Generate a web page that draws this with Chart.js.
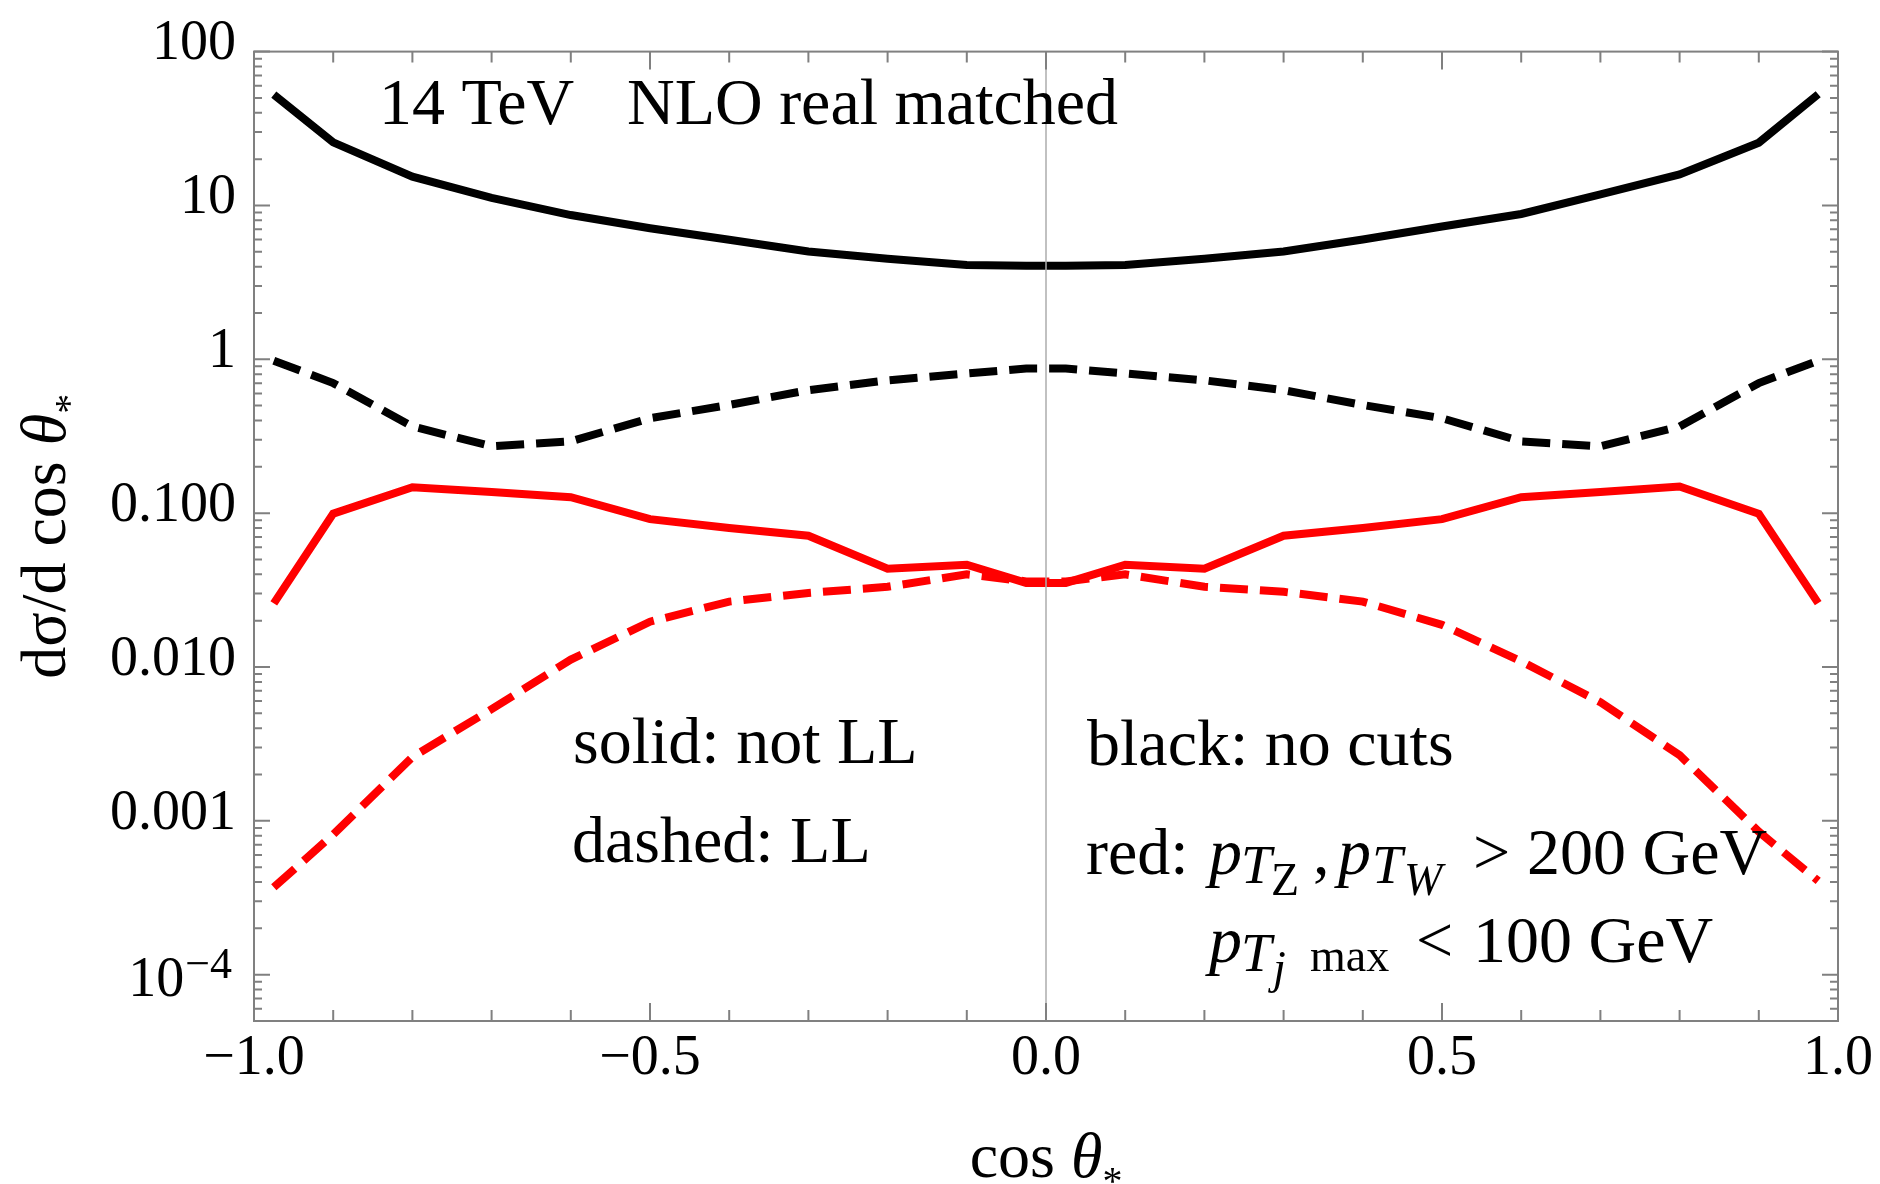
<!DOCTYPE html>
<html>
<head>
<meta charset="utf-8">
<script src="https://cdn.jsdelivr.net/npm/chart.js@4.4.1/dist/chart.umd.min.js"></script>
<style>
html,body{margin:0;padding:0;background:#fff;}
#wrap{width:1880px;height:1184px;position:relative;}
</style>
</head>
<body>
<div id="wrap"><canvas id="c" width="1880" height="1184"></canvas></div>
<script>
// ---------------- data ----------------
const cosTheta = [-0.975,-0.9,-0.8,-0.7,-0.6,-0.5,-0.4,-0.3,-0.2,-0.1,-0.025,0.025,0.1,0.2,0.3,0.4,0.5,0.6,0.7,0.8,0.9,0.975];
const noCutsNotLL = [52.6,25.7,15.4,11.2,8.66,7.11,5.98,5.02,4.5,4.1,4.05,4.05,4.1,4.5,5.02,6.0,7.3,8.8,11.8,15.9,25.6,52.8];
const noCutsLL    = [0.98,0.70,0.366,0.272,0.293,0.414,0.505,0.63,0.73,0.81,0.87,0.87,0.81,0.73,0.63,0.505,0.414,0.293,0.272,0.366,0.70,0.98];
const cutsNotLL   = [0.0259,0.0993,0.1475,0.137,0.127,0.0914,0.080,0.0713,0.0435,0.0462,0.0352,0.0352,0.0462,0.0435,0.0713,0.080,0.0914,0.127,0.137,0.149,0.099,0.026];
const cutsLL      = [3.7e-4,8.15e-4,2.6e-3,5.32e-3,0.01117,0.0197,0.0266,0.0303,0.0332,0.040,0.036,0.036,0.040,0.0332,0.0308,0.0266,0.0188,0.0109,5.9e-3,2.67e-3,8.5e-4,4.07e-4];

const xTickValues = [-1, -0.5, 0, 0.5, 1];
const xTickLabels = ['\u22121.0', '\u22120.5', '0.0', '0.5', '1.0'];
const yTickValues = [1e-4, 1e-3, 1e-2, 0.1, 1, 10, 100];
const yTickLabels = ['10^\u22124', '0.001', '0.010', '0.100', '1', '10', '100'];

// ---------------- styling ----------------
const FONT = '"Liberation Serif", "Times New Roman", serif';
const FRAME = '#808080';

function pts(arr){ return cosTheta.map((x,i)=>({x:x, y:arr[i]})); }

function txt(ctx, s, x, y, size, italic, align){
  ctx.font = (italic ? 'italic ' : '') + size + 'px ' + FONT;
  ctx.textAlign = align || 'left';
  ctx.textBaseline = 'alphabetic';
  ctx.fillText(s, x, y);
  return ctx.measureText(s).width;
}
function w(ctx, s, size, italic){
  ctx.font = (italic ? 'italic ' : '') + size + 'px ' + FONT;
  return ctx.measureText(s).width;
}

const decorations = {
  id: 'decorations',
  afterDatasetsDraw(chart){
    const {ctx, chartArea:a, scales:{x, y}} = chart;
    ctx.save();
    // vertical zero line
    const x0 = x.getPixelForValue(0);
    ctx.strokeStyle = '#adadad';
    ctx.lineWidth = 1.5;
    ctx.beginPath(); ctx.moveTo(x0, a.top); ctx.lineTo(x0, a.bottom); ctx.stroke();
    // ticks (inward, on all four sides)
    ctx.strokeStyle = FRAME;
    ctx.lineWidth = 2;
    ctx.beginPath();
    for (let k = -10; k <= 10; k++){
      const px = x.getPixelForValue(k/10);
      const len = (k % 5 === 0) ? 18 : 11;
      ctx.moveTo(px, a.bottom); ctx.lineTo(px, a.bottom - len);
      ctx.moveTo(px, a.top);    ctx.lineTo(px, a.top + len);
    }
    for (let e = -5; e <= 2; e++){
      for (let m = 1; m <= 9; m++){
        const v = m * Math.pow(10, e);
        if (v < y.min * 0.999 || v > y.max * 1.001) continue;
        const py = y.getPixelForValue(v);
        const len = (m === 1) ? 16 : 8;
        ctx.moveTo(a.left, py);  ctx.lineTo(a.left + len, py);
        ctx.moveTo(a.right, py); ctx.lineTo(a.right - len, py);
      }
    }
    ctx.stroke();
    ctx.strokeRect(a.left, a.top, a.right - a.left, a.bottom - a.top);
    ctx.restore();
  },
  afterDraw(chart){
    const {ctx, chartArea:a, scales:{x, y}} = chart;
    ctx.save();
    ctx.fillStyle = '#000';
    // special y tick label with exponent
    yTickValues.forEach((v, i) => {
      const lab = yTickLabels[i];
      if (lab.indexOf('^') < 0) return;
      const [base, ex] = lab.split('^');
      const py = y.getPixelForValue(v);
      const right = a.left - 22;
      const we = w(ctx, ex, 44);
      txt(ctx, ex, right, py + 3, 44, false, 'right');
      txt(ctx, base, right - we - 1, py + 21, 56, false, 'right');
    });

    // y-axis title (rotated)
    const ys = 64, ysub = 40;
    const p1 = 'd\u03c3/d cos ', p2 = '\u03b8', p3 = '*';
    const tot = w(ctx, p1, ys) + w(ctx, p2, ys, true) + w(ctx, p3, ysub);
    const cy = (a.top + a.bottom) / 2;
    ctx.save();
    ctx.translate(65, cy + tot/2);
    ctx.rotate(-Math.PI/2);
    let cx = 0;
    cx += txt(ctx, p1, cx, 0, ys);
    cx += txt(ctx, p2, cx, 0, ys, true);
    txt(ctx, p3, cx, 17, ysub);
    ctx.restore();

    // x-axis title
    const xs1 = 'cos ', xs2 = '\u03b8', xs3 = '*';
    const totx = w(ctx, xs1, ys) + w(ctx, xs2, ys, true) + w(ctx, xs3, ysub);
    let xx = (a.left + a.right)/2 - totx/2;
    xx += txt(ctx, xs1, xx, 1177, ys);
    xx += txt(ctx, xs2, xx, 1177, ys, true);
    txt(ctx, xs3, xx, 1194, ysub);

    // annotations
    const fs = 66;
    txt(ctx, '14 TeV', 379, 124, fs);
    txt(ctx, 'NLO real matched', 627, 124, fs);
    txt(ctx, 'solid: not LL', 573, 763, fs);
    txt(ctx, 'dashed: LL', 572, 862, fs);
    txt(ctx, 'black: no cuts', 1087, 765, fs);
    // red: p_{T_Z}, p_{T_W} > 200 GeV
    txt(ctx, 'red:', 1086, 874, fs);
    txt(ctx, 'p', 1209, 874, fs, true);
    txt(ctx, 'T', 1241, 883, 55, true);
    txt(ctx, 'Z', 1271, 895, 46);
    txt(ctx, ',', 1313, 874, fs);
    txt(ctx, 'p', 1338, 874, fs, true);
    txt(ctx, 'T', 1372, 883, 55, true);
    txt(ctx, 'W', 1404, 895, 46, true);
    txt(ctx, '>', 1473, 874, fs);
    txt(ctx, '200 GeV', 1527, 874, fs);
    // p_{T_j max} < 100 GeV
    txt(ctx, 'p', 1209, 962, fs, true);
    txt(ctx, 'T', 1241, 971, 55, true);
    txt(ctx, 'j', 1273, 983, 46, true);
    txt(ctx, 'max', 1310, 971, 46);
    txt(ctx, '<', 1416, 962, fs);
    txt(ctx, '100 GeV', 1473, 962, fs);
    ctx.restore();
  }
};

function ds(arr, color, dashed){
  return {
    data: pts(arr),
    borderColor: color,
    backgroundColor: color,
    borderWidth: 8,
    borderDash: dashed ? [28, 12] : [],
    borderCapStyle: 'butt',
    borderJoinStyle: 'miter',
    pointRadius: 0,
    tension: 0,
    fill: false
  };
}

new Chart(document.getElementById('c'), {
  type: 'line',
  data: {
    datasets: [
      ds(noCutsNotLL, '#000000', false),
      ds(noCutsLL, '#000000', true),
      ds(cutsNotLL, '#ff0000', false),
      ds(cutsLL, '#ff0000', true)
    ]
  },
  options: {
    responsive: false,
    animation: false,
    events: [],
    layout: { padding: { left: 0, right: 42, top: 43, bottom: 0 } },
    plugins: { legend: { display: false }, tooltip: { enabled: false } },
    scales: {
      x: {
        type: 'linear', min: -1, max: 1,
        grid: { display: false, drawTicks: false, tickLength: 0 },
        border: { display: false },
        afterBuildTicks: s => { s.ticks = xTickValues.map(v => ({value: v})); },
        afterFit: s => { s.height = 163; },
        ticks: {
          autoSkip: false, maxRotation: 0, padding: 5,
          color: '#000', font: { family: FONT, size: 56 },
          callback: v => { const i = xTickValues.indexOf(v); return i >= 0 ? xTickLabels[i] : ''; }
        }
      },
      y: {
        type: 'logarithmic', min: 5e-5, max: 100,
        grid: { display: false, drawTicks: false, tickLength: 0 },
        border: { display: false },
        afterBuildTicks: s => { s.ticks = yTickValues.map(v => ({value: v})); },
        afterFit: s => { s.width = 254; },
        ticks: {
          autoSkip: false, padding: 18, labelOffset: -7,
          color: '#000', font: { family: FONT, size: 56 },
          callback: (v) => {
            const i = yTickValues.findIndex(t => Math.abs(t - v) / t < 1e-6);
            if (i < 0) return '';
            return yTickLabels[i].indexOf('^') >= 0 ? '' : yTickLabels[i];
          }
        }
      }
    }
  },
  plugins: [decorations]
});
</script>
</body>
</html>
